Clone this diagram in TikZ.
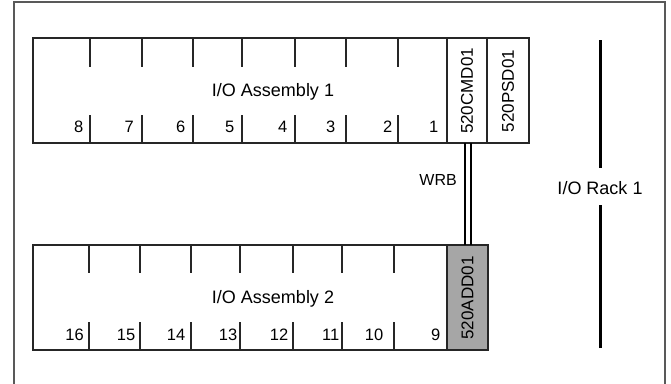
\documentclass[tikz,border=0pt]{standalone}
\usepackage{fontspec}
\setmainfont{Liberation Sans}
\begin{document}
\begin{tikzpicture}[x=1pt,y=-1pt,
  box/.style={draw=black!85, line width=1.4pt, inner sep=0pt, outer sep=0pt, anchor=north west},
  grey/.style={box, fill=black!35},
  tickline/.style={draw=black!85, line width=1.4pt},
  frameline/.style={draw=black!65, line width=1.5pt},
  cable/.style={draw=black, line width=2pt},
  rackline/.style={draw=black, line width=3pt},
  title/.style={font=\fontsize{18}{18}\selectfont, inner sep=0pt},
  numlbl/.style={font=\fontsize{16.5}{16.5}\selectfont, inner sep=0pt, anchor=base east},
  modlbl/.style={font=\fontsize{17}{17}\selectfont, inner sep=0pt, rotate=90},
  wrblbl/.style={font=\fontsize{16}{16}\selectfont, inner sep=0pt}
]
\useasboundingbox (0,0) rectangle (671,383);
% rack frame
\draw[frameline] (14,386) -- (14,2) -- (665,2) -- (665,386);

% assembly 1
\node[box, minimum width=414pt, minimum height=105pt] (as1) at (33,38) {};
\node[box, minimum width=40pt, minimum height=105pt] (cmd) at (447,38) {};
\node[box, minimum width=42pt, minimum height=105pt] (psd) at (487,38) {};
\foreach \x in {90,142,193,242,295,346,398} {
  \draw[tickline] (\x,38) -- (\x,67);
  \draw[tickline] (\x,115) -- (\x,143);
}
\foreach \r/\n in {83.5/8,134/7,185.5/6,234.5/5,287.5/4,335.5/3,392.5/2,438.5/1} {
  \node[numlbl] at (\r,132.5) {\n};
}
\node[title] (t1) at (273,92) {I/O Assembly 1};
\node[modlbl] (lcmd) at (467,91) {520CMD01};
\node[modlbl] (lpsd) at (508,91) {520PSD01};

% assembly 2
\node[box, minimum width=414pt, minimum height=105pt] (as2) at (33,245) {};
\node[grey, minimum width=41pt, minimum height=105pt] (add) at (447,245) {};
\foreach \x in {89,140,191,240,293,342,394} {
  \draw[tickline] (\x,245) -- (\x,273);
  \draw[tickline] (\x,322) -- (\x,350);
}
\foreach \r/\n in {84/16,135.5/15,185.5/14,237.5/13,288.5/12,339.5/11,383.5/10,440.5/9} {
  \node[numlbl] at (\r,340.5) {\n};
}
\node[title] (t2) at (273,299) {I/O Assembly 2};
\node[modlbl] (ladd) at (467.5,298) {520ADD01};

% WRB cable
\draw[cable] ([xshift=-2pt]cmd.south) -- ([xshift=-2pt]cmd.south |- add.north);
\draw[cable] ([xshift=4pt]cmd.south) -- ([xshift=4pt]cmd.south |- add.north);
\node[wrblbl, anchor=east] (wrb) at (457,180) {WRB};

% I/O Rack 1
\node[title] (rack) at (600,188) {I/O Rack 1};
\coordinate (rt) at (600.5,40);
\coordinate (rb) at (600.5,348);
\draw[rackline] (rt) -- (rt |- 0,168);
\draw[rackline] (rb) -- (rb |- 0,205);
\end{tikzpicture}
\end{document}
